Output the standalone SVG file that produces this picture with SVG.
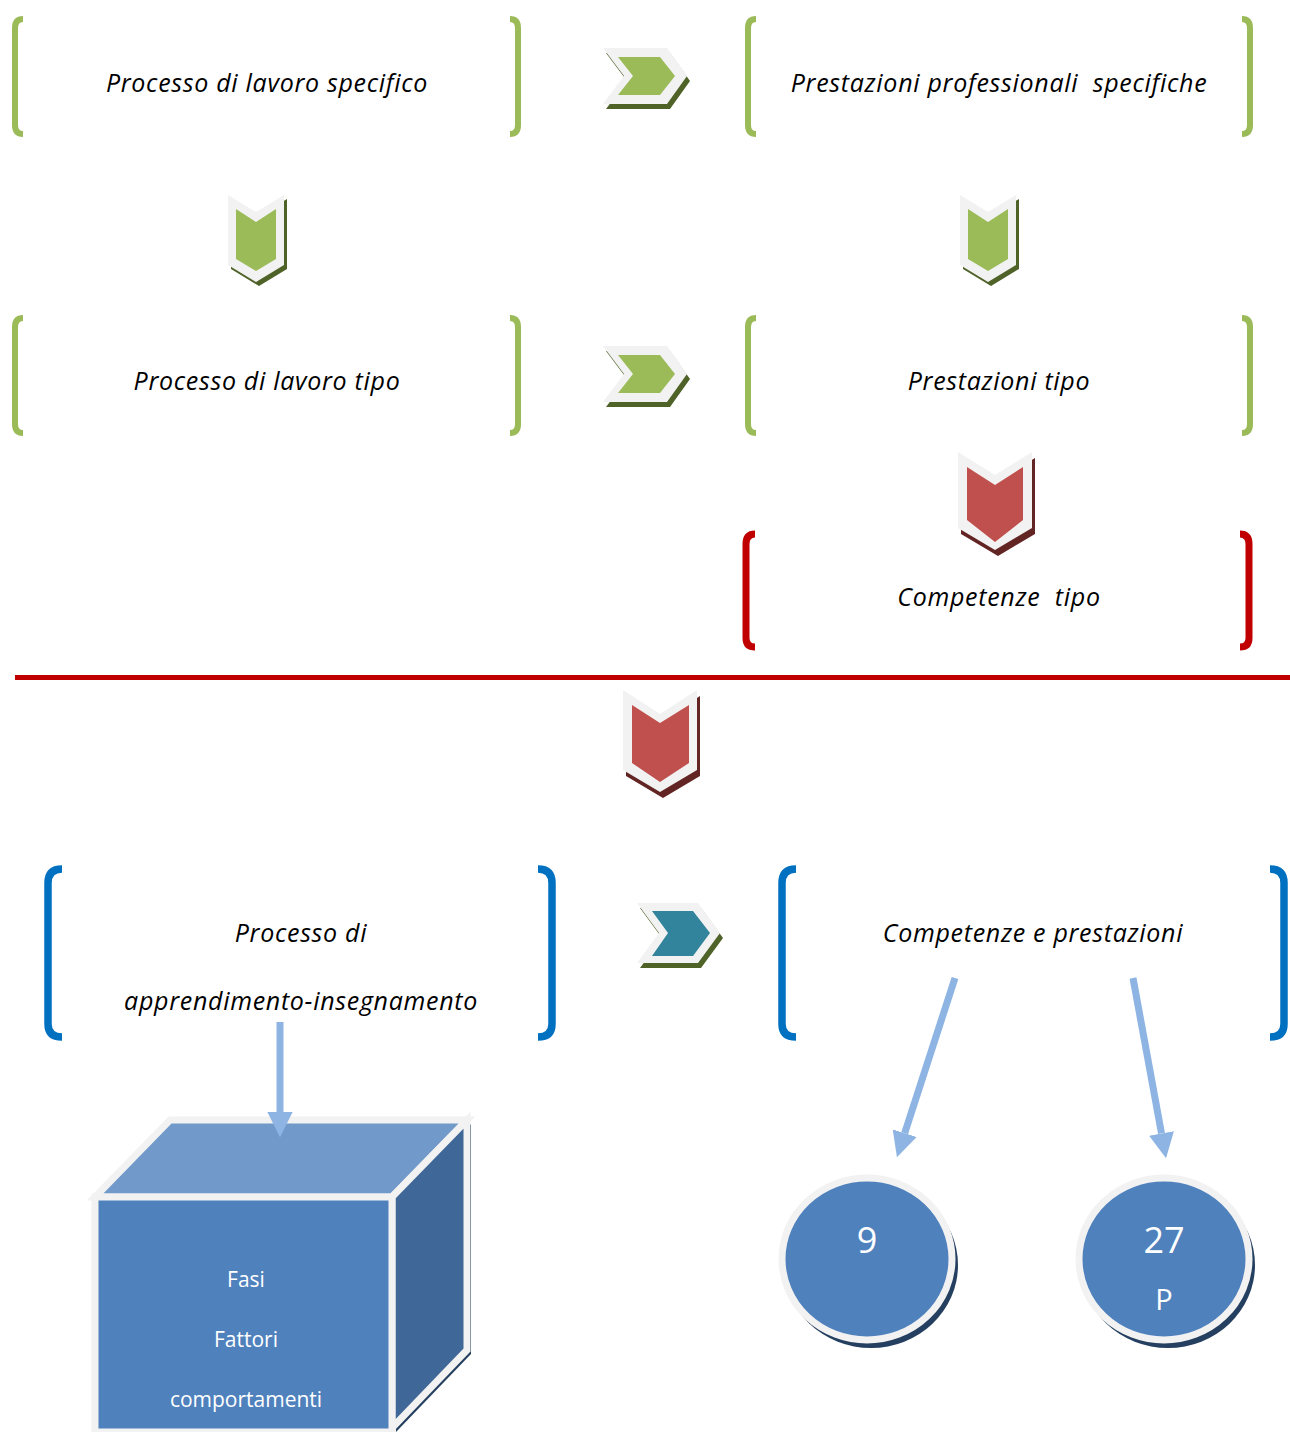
<svg xmlns="http://www.w3.org/2000/svg" width="1290" height="1432" viewBox="0 0 1290 1432">
<defs>
<style>
.lbl{font-family:"Open Sans","Liberation Sans",sans-serif;font-style:italic;font-size:25px;letter-spacing:0.7px;fill:#000;text-anchor:middle}
.wt{font-family:"Open Sans","Liberation Sans",sans-serif;fill:#fff;text-anchor:middle}
.bg{fill:none;stroke:#9bbb59;stroke-width:6}
.br{fill:none;stroke:#c00000;stroke-width:7}
.bb{fill:none;stroke:#0070c0;stroke-width:7.5}
.gray{fill:#f2f2f2}
.arr{stroke:#8eb4e3;stroke-width:7;fill:none}
</style>
<marker id="ah" viewBox="0 0 4 4" refX="0" refY="2" markerWidth="3.6" markerHeight="3.6" orient="auto" markerUnits="strokeWidth">
<path d="M0,0 L4,2 L0,4 z" fill="#8eb4e3"/>
</marker>
<g id="chevR">
<polygon points="606,53 670,53 690,81 670,109 606,109 627,81" fill="#4f6228"/>
<polygon class="gray" points="603,48 667,48 687,76 667,104 603,104 624,76"/>
<polygon points="618,57 660,57 675,76 660,95 618,95 633,76" fill="#9bbb59"/>
</g>
<g id="chevD">
<polygon points="231,199 259,216 287,199 287,269 259,286 231,269" fill="#4f6228"/>
<polygon class="gray" points="228,195 256,212 284,195 284,265 256,282 228,265"/>
<polygon points="236,209 256,222 276,209 276,259 256,271 236,259" fill="#9bbb59"/>
</g>
</defs>
<rect width="1290" height="1432" fill="#fff"/>

<g id="node-processo-specifico">
<path class="bg" d="M23,19 Q15,19 15,28 L15,125 Q15,134 23,134"/>
<path class="bg" d="M510,19 Q518,19 518,28 L518,125 Q518,134 510,134"/>
<text class="lbl" x="267" y="92">Processo di lavoro specifico</text>
</g>
<g id="node-prestazioni-specifiche">
<path class="bg" d="M756,19 Q748,19 748,28 L748,125 Q748,134 756,134"/>
<path class="bg" d="M1242,19 Q1250,19 1250,28 L1250,125 Q1250,134 1242,134"/>
<text class="lbl" x="999" y="92" xml:space="preserve">Prestazioni professionali  specifiche</text>
</g>
<g id="node-processo-tipo">
<path class="bg" d="M23,318 Q15,318 15,327 L15,424 Q15,433 23,433"/>
<path class="bg" d="M510,318 Q518,318 518,327 L518,424 Q518,433 510,433"/>
<text class="lbl" x="267" y="390">Processo di lavoro tipo</text>
</g>
<g id="node-prestazioni-tipo">
<path class="bg" d="M756,318 Q748,318 748,327 L748,424 Q748,433 756,433"/>
<path class="bg" d="M1242,318 Q1250,318 1250,327 L1250,424 Q1250,433 1242,433"/>
<text class="lbl" x="999" y="390">Prestazioni tipo</text>
</g>
<g id="node-competenze-tipo">
<path class="br" d="M755,534 Q746,534 746,544 L746,638 Q746,647 755,647"/>
<path class="br" d="M1240,534 Q1249,534 1249,544 L1249,638 Q1249,647 1240,647"/>
<text class="lbl" x="999" y="606" xml:space="preserve">Competenze  tipo</text>
</g>
<g id="node-processo-apprendimento">
<path class="bb" d="M62,869 Q48,869 48,883 L48,1024 Q48,1037 62,1037"/>
<path class="bb" d="M538,869 Q552,869 552,883 L552,1024 Q552,1037 538,1037"/>
<text class="lbl" x="301" y="942">Processo di</text>
<text class="lbl" x="301" y="1010">apprendimento-insegnamento</text>
</g>
<g id="node-competenze-prestazioni">
<path class="bb" d="M796,869 Q782,869 782,883 L782,1024 Q782,1037 796,1037"/>
<path class="bb" d="M1270,869 Q1284,869 1284,883 L1284,1024 Q1284,1037 1270,1037"/>
<text class="lbl" x="1033" y="942">Competenze e prestazioni</text>
</g>

<g id="separator">
<rect x="15" y="675" width="1275" height="5" fill="#c00000"/>
</g>

<g id="node-cube">
<polygon points="396,1201 471,1124 471,1354 396,1432" fill="#243f60"/>
<polygon points="95,1197 170,1120 467,1120 392,1197" fill="#7199c9" stroke="#f2f2f2" stroke-width="7" stroke-linejoin="miter"/>
<polygon points="392,1197 467,1120 467,1350 392,1428" fill="#3f6797" stroke="#f2f2f2" stroke-width="7"/>
<rect x="95" y="1197" width="297" height="235" fill="#4f81bd" stroke="#f2f2f2" stroke-width="7"/>
<text class="wt" x="246" y="1287" font-size="21">Fasi</text>
<text class="wt" x="246" y="1347" font-size="21">Fattori</text>
<text class="wt" x="246" y="1407" font-size="21">comportamenti</text>
</g>

<g id="node-9">
<ellipse cx="871" cy="1265" rx="87" ry="83" fill="#243f60"/>
<ellipse cx="867" cy="1259" rx="85" ry="81" fill="#4f81bd" stroke="#f2f2f2" stroke-width="7"/>
<text class="wt" x="867" y="1253" font-size="36">9</text>
</g>
<g id="node-27p">
<ellipse cx="1168" cy="1265" rx="87" ry="83" fill="#243f60"/>
<ellipse cx="1164" cy="1259" rx="85" ry="81" fill="#4f81bd" stroke="#f2f2f2" stroke-width="7"/>
<text class="wt" x="1164" y="1253" font-size="36">27</text>
<text class="wt" x="1164" y="1310" font-size="29">P</text>
</g>

<g id="connectors">
<use href="#chevR"/>
<use href="#chevR" transform="translate(0,298)"/>
<use href="#chevD"/>
<use href="#chevD" transform="translate(732,0)"/>
<g id="chev-red-1">
<polygon points="961,458 998,481 1035,458 1035,534 998,556 961,534" fill="#632523"/>
<polygon class="gray" points="958,452 995,475 1032,452 1032,528 995,550 958,528"/>
<polygon points="967,467 995,485 1023,467 1023,520 995,542 967,520" fill="#c0504d"/>
</g>
<g id="chev-red-2">
<polygon points="626,696 663,720 700,696 700,776 663,798 626,776" fill="#632523"/>
<polygon class="gray" points="623,690 660,714 697,690 697,770 660,792 623,770"/>
<polygon points="632,705 660,723 689,705 689,763 660,782 632,763" fill="#c0504d"/>
</g>
<g id="chev-teal">
<polygon points="640,908 701,908 723,938 701,968 640,968 662,938" fill="#4f6228"/>
<polygon class="gray" points="637,903 698,903 720,933 698,963 637,963 659,933"/>
<polygon points="652,911 693,911 710,933 693,956 652,956 668,933" fill="#31849b"/>
</g>
<line class="arr" x1="280" y1="1022" x2="280" y2="1112" marker-end="url(#ah)"/>
<line class="arr" x1="955" y1="978" x2="904.7" y2="1133.2" marker-end="url(#ah)"/>
<line class="arr" x1="1133" y1="978" x2="1161.5" y2="1133.4" marker-end="url(#ah)"/>
</g>
</svg>
